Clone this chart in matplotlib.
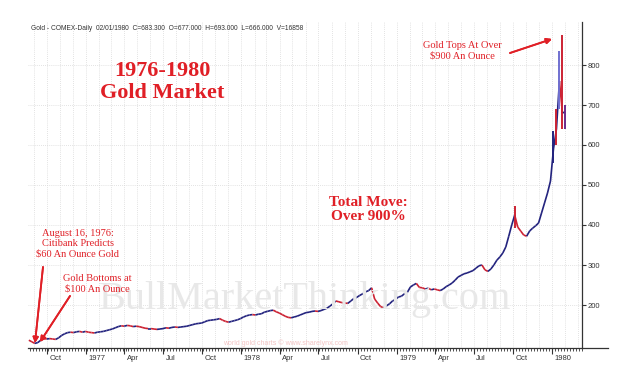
import matplotlib
matplotlib.use("Agg")
import matplotlib.pyplot as plt
import matplotlib.dates as mdates
from matplotlib.collections import LineCollection
from matplotlib.lines import Line2D
from matplotlib.transforms import ScaledTranslation
import numpy as np
import pandas as pd

# ── Data: weekly (Friday) closes ────────────────────────────────────────────
close_1976 = [112, 108, 104, 106, 112, 116, 115, 116, 115, 114, 118,
              124, 128, 131, 132, 131, 133, 134, 132, 134]
close_1977 = [132, 131, 130, 132, 133, 134, 136, 138, 140, 143, 146, 148,
              147, 149, 148, 146, 147, 146, 144, 142, 141, 141, 140, 139, 140,
              141, 143, 142, 144, 145, 144, 145, 146, 147,
              149, 151, 153, 154, 155, 158, 161, 162, 163,
              164, 166, 162, 159, 157, 159, 161, 163, 166]
close_1978 = [170, 173, 175, 176, 175, 177, 178, 182, 184, 186, 187, 183, 180,
              176, 172, 169, 168, 170, 172, 175, 178, 181, 182, 184, 185, 184,
              186, 189, 192, 197, 203, 210, 208, 206,
              205, 204, 210, 216, 219, 224, 228, 233, 236,
              243, 215, 205, 196, 193, 198, 203, 210, 214]
close_1979 = [220, 222, 228, 232, 245, 250, 254, 244, 243, 240, 242, 238, 240,
              238, 236, 240, 246, 250, 255, 262, 270, 274, 278, 280, 283, 286,
              292, 298, 300, 288, 284, 290, 300, 312, 320,
              330, 345, 372, 400, 425, 395, 385, 375,
              372, 385, 392, 398, 405, 430, 455, 480, 510]
close_1980 = [590, 640, 760, 680, 683]

# weekly high/low bars for the wildest weeks
hl_dates = ["1979-10-05", "1980-01-04", "1980-01-11", "1980-01-18",
            "1980-01-25", "1980-02-01"]
hl_lows = [392, 555, 600, 690, 640, 640]
hl_highs = [447, 634, 690, 835, 875, 700]

y_ticks = [200, 300, 400, 500, 600, 700, 800]
header = ("Gold - COMEX-Daily  02/01/1980  C=683.300  O=677.000  "
          "H=693.000  L=666.000  V=16858")

RED = "#e01f26"
W, H = 634, 376


def fx(px):
    return px / W


def fy(py):
    return 1 - py / H


weeks = pd.date_range("1976-08-20", "1980-02-01", freq="W-FRI")
closes = np.array(close_1976 + close_1977 + close_1978 + close_1979 + close_1980)
xs = mdates.date2num(weeks)

fig = plt.figure(figsize=(W / 100, H / 100), dpi=100)
ax = fig.add_axes([fx(28), fy(348), fx(582) - fx(28), fy(22) - fy(348)])

ax.set_xlim(mdates.datestr2num("1976-08-18"), mdates.datestr2num("1980-03-11"))
ax.set_ylim(92.5, 907.5)

# grid: monthly verticals, price horizontals
for m in pd.date_range("1976-09-01", "1980-03-01", freq="MS"):
    ax.axvline(m, color="#d9d9d9", lw=0.6, ls=(0, (1, 1.5)), zorder=0)
for yv in y_ticks:
    ax.axhline(yv, color="#d9d9d9", lw=0.6, ls=(0, (1, 1.5)), zorder=0)

# price line, blue up / red down
pts = np.column_stack([xs, closes])
segs = np.stack([pts[:-1], pts[1:]], axis=1)
cols = ["#23237e" if b >= a else "#cc2233" for a, b in zip(closes[:-1], closes[1:])]
ax.add_collection(LineCollection(segs, colors=cols, linewidths=1.2, zorder=3))

hx = mdates.datestr2num(hl_dates)
hl_cols = ["#cc2233", "#23237e", "#cc2233", "#7070d0", "#cc2233", "#6a2a8a"]
ax.vlines(hx, hl_lows, hl_highs, colors=hl_cols, lw=1.4, zorder=4)

# axes styling
for s in ("top", "left"):
    ax.spines[s].set_visible(False)
for s in ("right", "bottom"):
    ax.spines[s].set_color("#333333")
    ax.spines[s].set_linewidth(0.9)

ax.yaxis.tick_right()
ax.set_yticks(y_ticks)
ax.tick_params(axis="y", direction="out", length=3, pad=1, labelsize=5.5,
               colors="#333333")

qtrs = pd.date_range("1976-10-01", "1980-01-01", freq="QS")
ax.set_xticks(mdates.date2num(qtrs))
ax.set_xticklabels([str(d.year) if d.month == 1 else d.strftime("%b") for d in qtrs])
ax.xaxis.set_minor_locator(mdates.WeekdayLocator(byweekday=mdates.MO))
ax.tick_params(axis="x", which="major", direction="out", length=4, pad=1,
               labelsize=5.5, colors="#333333")
ax.tick_params(axis="x", which="minor", direction="out", length=2, color="#333333")
shift = ScaledTranslation(2.5 / 100, 0, fig.dpi_scale_trans)
for lab in ax.get_xticklabels():
    lab.set_ha("left")
    lab.set_transform(lab.get_transform() + shift)
for lab in ax.get_xticklabels() + ax.get_yticklabels():
    lab.set_family("Liberation Sans")

# bottom axis runs past the price scale
fig.add_artist(Line2D([fx(582), fx(608)], [fy(348), fy(348)],
                      color="#333333", lw=0.9))

# header
fig.text(fx(31), fy(28), header, fontsize=4.8, color="#333333",
         family="Liberation Sans", va="center")

# watermarks
fig.text(fx(305), fy(300), "BullMarketThinking.com", fontsize=29,
         family="Liberation Serif", color="#e8e8e8", ha="center", va="center",
         zorder=0)
fig.text(fx(285), fy(343), "world gold charts \u00a9 www.sharelynx.com",
         fontsize=5, family="Liberation Sans", color="#f3c4c4",
         ha="center", va="center")

# titles and notes
fig.text(fx(162), fy(82), "1976-1980\nGold Market", fontsize=16,
         family="Liberation Serif", weight="bold", color=RED,
         ha="center", va="center", linespacing=1.2)
fig.text(fx(368), fy(209), "Total Move:\nOver 900%", fontsize=11,
         family="Liberation Serif", weight="bold", color=RED,
         ha="center", va="center", linespacing=1.1)
fig.text(fx(462), fy(51), "Gold Tops At Over\n$900 An Ounce", fontsize=7.5,
         family="Liberation Serif", color=RED, ha="center", va="center",
         linespacing=1.15)
fig.text(fx(78), fy(244), "August 16, 1976:\nCitibank Predicts\n$60 An Ounce Gold",
         fontsize=7.5, family="Liberation Serif", color=RED,
         ha="center", va="center", linespacing=1.15)
fig.text(fx(97), fy(284), "Gold Bottoms at\n$100 An Ounce", fontsize=7.5,
         family="Liberation Serif", color=RED, ha="center", va="center",
         linespacing=1.15)

arrow = dict(arrowstyle="-|>", color=RED, lw=1.3, mutation_scale=8,
             shrinkA=0, shrinkB=0)
for start, end in [((510, 53), (552, 39)),
                   ((43, 267), (35, 343)),
                   ((70, 296), (40, 342))]:
    fig.add_artist(plt.annotate("", xy=(fx(end[0]), fy(end[1])),
                                xytext=(fx(start[0]), fy(start[1])),
                                xycoords="figure fraction",
                                textcoords="figure fraction",
                                arrowprops=arrow))

fig.savefig("out.png", dpi=100)
